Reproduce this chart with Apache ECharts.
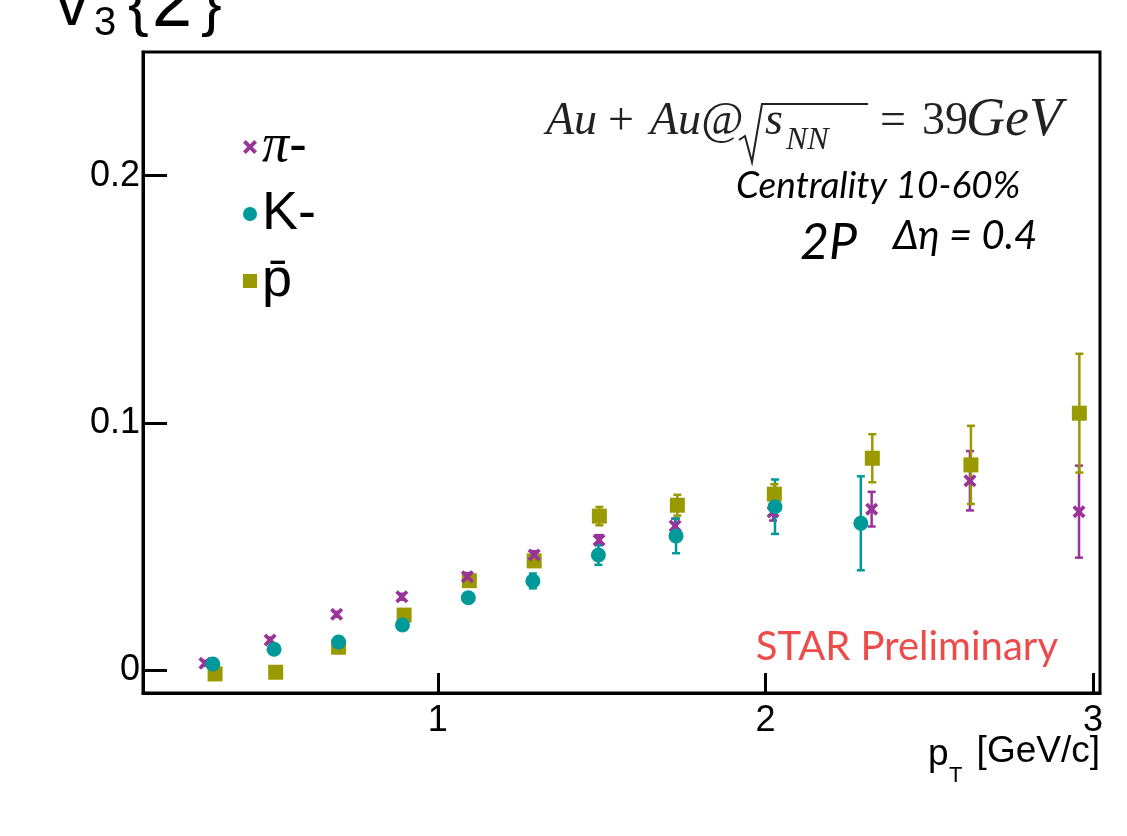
<!DOCTYPE html>
<html><head><meta charset="utf-8">
<script src="https://cdn.jsdelivr.net/npm/echarts@6/dist/echarts.min.js"></script>
<style>html,body{margin:0;padding:0;background:#fff}#c{width:1127px;height:836px}</style>
</head><body><div id="c"></div>
<script>
// ---- data ----
const seriesNames = ['π-', 'K-', 'p\u0304'];
const piX   = [0.289, 0.488, 0.691, 0.890, 1.090, 1.294, 1.492, 1.724, 2.023, 2.324, 2.624, 2.957];
const piY   = [0.0029, 0.0123, 0.0227, 0.0298, 0.0379, 0.0467, 0.0527, 0.0584, 0.0641, 0.0652, 0.0767, 0.0642];
const piErr = [0.001, 0.001, 0.001, 0.0012, 0.0015, 0.0015, 0.002, 0.003, 0.0035, 0.007, 0.012, 0.0186];
const kX    = [0.313, 0.500, 0.697, 0.892, 1.093, 1.290, 1.490, 1.727, 2.029, 2.291];
const kY    = [0.0026, 0.0086, 0.0115, 0.0184, 0.0294, 0.0362, 0.0467, 0.0544, 0.0662, 0.0595];
const kErr  = [0.001, 0.001, 0.001, 0.0012, 0.0015, 0.003, 0.004, 0.007, 0.011, 0.019];
const pX    = [0.320, 0.505, 0.697, 0.897, 1.096, 1.294, 1.493, 1.731, 2.027, 2.326, 2.627, 2.958];
const pY    = [-0.0014, -0.0007, 0.0094, 0.0224, 0.0363, 0.0443, 0.0624, 0.0668, 0.0713, 0.0858, 0.0831, 0.1040];
const pErr  = [0.001, 0.001, 0.001, 0.0012, 0.0015, 0.002, 0.0037, 0.0042, 0.004, 0.0097, 0.0158, 0.024];
const xTicks = [1, 2, 3];
const yTicks = [0, 0.1, 0.2];
const colors = ['#993399', '#009999', '#999900'];

const crossPath = 'path://M2,0 L5,3 L8,0 L10,2 L7,5 L10,8 L8,10 L5,7 L2,10 L0,8 L3,5 L0,2 Z';

function errSeries(xs, ys, es, color) {
  return {
    type: 'custom', silent: true, z: 2,
    data: xs.map((x, i) => [x, ys[i] - es[i], ys[i] + es[i]]),
    encode: { x: 0, y: [1, 2] },
    renderItem(params, api) {
      const lo = api.coord([api.value(0), api.value(1)]);
      const hi = api.coord([api.value(0), api.value(2)]);
      const w = 4;
      const st = { stroke: color, lineWidth: 2.5 };
      return { type: 'group', children: [
        { type: 'line', shape: { x1: lo[0], y1: lo[1], x2: hi[0], y2: hi[1] }, style: st },
        { type: 'line', shape: { x1: lo[0] - w, y1: lo[1], x2: lo[0] + w, y2: lo[1] }, style: st },
        { type: 'line', shape: { x1: hi[0] - w, y1: hi[1], x2: hi[0] + w, y2: hi[1] }, style: st }
      ]};
    }
  };
}
const zip = (xs, ys) => xs.map((x, i) => [x, ys[i]]);

const chart = echarts.init(document.getElementById('c'), null, { renderer: 'canvas' });
chart.setOption({
  animation: false,
  backgroundColor: '#fff',
  grid: { left: 143, right: 27, top: 52, bottom: 143, show: true, borderColor: '#000', borderWidth: 3, backgroundColor: 'transparent' },
  xAxis: {
    type: 'value', min: 0.1, max: 3.021,
    axisLine: { show: true, onZero: false, lineStyle: { color: '#000', width: 3 } },
    axisTick: { show: true, inside: true, length: 20, lineStyle: { color: '#000', width: 3 }, customValues: xTicks },
    axisLabel: { customValues: xTicks, margin: 10, fontSize: 36, color: '#000', fontFamily: 'Liberation Sans' },
    splitLine: { show: false }
  },
  yAxis: {
    type: 'value', min: -0.0091, max: 0.25,
    axisLine: { show: true, onZero: false, lineStyle: { color: '#000', width: 3 } },
    axisTick: { show: true, inside: true, length: 24, lineStyle: { color: '#000', width: 3 }, customValues: yTicks },
    axisLabel: { customValues: yTicks, margin: 3, fontSize: 36, color: '#000', fontFamily: 'Liberation Sans',
      formatter: v => (Math.abs(v) < 1e-9 ? '0' : String(+v.toFixed(2))) },
    splitLine: { show: false }
  },
  legend: {
    data: seriesNames, orient: 'vertical', left: 238, top: 115, itemGap: 13,
    itemWidth: 14, itemHeight: 14,
    formatter: n => (n === 'π-' ? '{g|π}-' : n),
    textStyle: { fontSize: 54, color: '#000', fontFamily: 'Liberation Sans',
      rich: { g: { fontSize: 54, fontFamily: 'Liberation Serif', fontStyle: 'italic', color: '#000' } } }
  },
  series: [
    errSeries(piX, piY, piErr, colors[0]),
    errSeries(kX, kY, kErr, colors[1]),
    errSeries(pX, pY, pErr, colors[2]),
    { type: 'scatter', name: seriesNames[0], data: zip(piX, piY), symbol: crossPath, symbolSize: 13, itemStyle: { color: colors[0], opacity: 1 }, z: 4 },
    { type: 'scatter', name: seriesNames[1], data: zip(kX, kY), symbol: 'circle', symbolSize: 15, itemStyle: { color: colors[1], opacity: 1 }, z: 4 },
    { type: 'scatter', name: seriesNames[2], data: zip(pX, pY), symbol: 'rect', symbolSize: 15, itemStyle: { color: colors[2], opacity: 1 }, z: 3 }
  ],
  graphic: [
    // y title v3{2}
    { type: 'text', left: 56, top: -25, style: { text: 'v', font: '64px "Liberation Sans"', fill: '#000' } },
    { type: 'text', left: 94, top: 4, style: { text: '3', font: '40px "Liberation Sans"', fill: '#000' } },
    { type: 'text', left: 128, top: -24, style: { text: '{', font: '62px "Liberation Sans"', fill: '#000' } },
    { type: 'text', left: 152, top: -30, style: { text: '2', font: '72px "Liberation Sans"', fill: '#000' } },
    { type: 'text', left: 201, top: -24, style: { text: '}', font: '62px "Liberation Sans"', fill: '#000' } },
    // annotation
    { type: 'text', x: 546, y: 122, style: { text: 'Au', font: 'italic 46px "Liberation Serif"', fill: '#222', verticalAlign: 'middle' } },
    { type: 'text', x: 608, y: 122, style: { text: '+', font: '46px "Liberation Serif"', fill: '#222', verticalAlign: 'middle' } },
    { type: 'text', x: 650, y: 122, style: { text: 'Au@', font: 'italic 46px "Liberation Serif"', fill: '#222', verticalAlign: 'middle' } },
    { type: 'polyline', shape: { points: [[739, 140], [745, 136], [752, 162], [762, 104], [868, 104]] }, style: { stroke: '#222', lineWidth: 2, fill: null } },
    { type: 'text', x: 765, y: 122, style: { text: 's', font: 'italic 46px "Liberation Serif"', fill: '#222', verticalAlign: 'middle' } },
    { type: 'text', x: 786, y: 141, style: { text: 'NN', font: 'italic 32px "Liberation Serif"', fill: '#222', verticalAlign: 'middle' } },
    { type: 'text', x: 880, y: 122, style: { text: '=', font: '46px "Liberation Serif"', fill: '#222', verticalAlign: 'middle' } },
    { type: 'text', x: 922, y: 122, style: { text: '39', font: '46px "Liberation Serif"', fill: '#222', verticalAlign: 'middle' } },
    { type: 'text', x: 966, y: 121, style: { text: 'GeV', font: 'italic 54px "Liberation Serif"', fill: '#222', verticalAlign: 'middle' } },
    { type: 'text', x: 736, y: 186, style: { text: 'Centrality 10-60%', font: 'italic 37px Lato', fill: '#000', verticalAlign: 'middle' } },
    { type: 'text', x: 800, y: 243, style: { text: '2P', font: 'italic 50px Lato', fill: '#000', verticalAlign: 'middle' } },
    { type: 'text', x: 893, y: 236, style: { text: 'Δη = 0.4', font: 'italic 40px Lato', fill: '#000', verticalAlign: 'middle' } },
    { type: 'text', x: 1058, y: 647, style: { text: 'STAR Preliminary', font: '40px Lato', fill: '#ee4b4b', align: 'right', verticalAlign: 'middle' } },
    // x axis title
    { type: 'text', x: 928, y: 755, style: { text: 'p', font: '37px "Liberation Sans"', fill: '#000', verticalAlign: 'middle' } },
    { type: 'text', x: 949, y: 776, style: { text: 'T', font: '22px "Liberation Sans"', fill: '#000', verticalAlign: 'middle' } },
    { type: 'text', x: 1100, y: 752, style: { text: '[GeV/c]', font: '37px "Liberation Sans"', fill: '#000', align: 'right', verticalAlign: 'middle' } }
  ]
});
</script>
</body></html>
